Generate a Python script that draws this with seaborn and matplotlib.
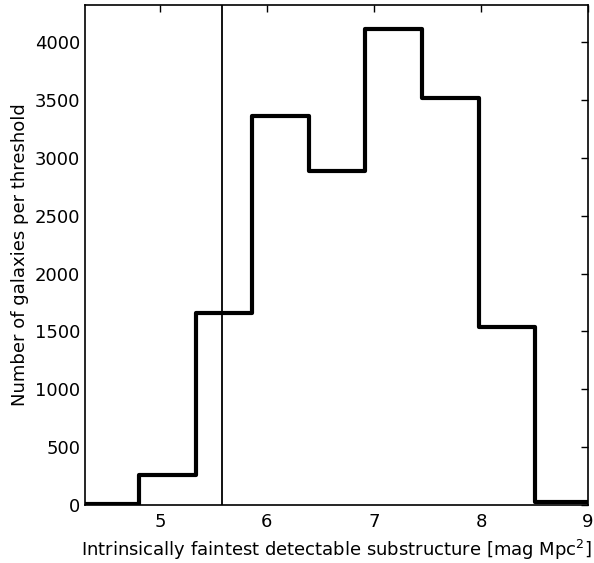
import numpy as np
import pandas as pd
import matplotlib
matplotlib.use("Agg")
import matplotlib.pyplot as plt
import seaborn as sns

# Bin edges of the threshold distribution and galaxy counts per bin
bin_edges = [4.275, 4.804, 5.333, 5.862, 6.391, 6.920, 7.449, 7.978, 8.507, 9.036]
counts = [5, 259, 1661, 3360, 2888, 4114, 3515, 1534, 25]
threshold_line = 5.58

xlabel = "Intrinsically faintest detectable substructure [mag Mpc$^2$]"
ylabel = "Number of galaxies per threshold"
xticks = [5, 6, 7, 8, 9]
yticks = [0, 500, 1000, 1500, 2000, 2500, 3000, 3500, 4000]

sns.set_style("white")
plt.rcParams["font.family"] = ["DejaVu Sans"]
plt.rcParams["text.color"] = "black"
plt.rcParams["axes.labelcolor"] = "black"

edges = np.asarray(bin_edges)
centers = 0.5 * (edges[:-1] + edges[1:])
df = pd.DataFrame({"threshold": centers, "n": counts})

fig = plt.figure(figsize=(5.94, 5.63), dpi=100)
ax = fig.add_axes([0.143, 0.103, 0.847, 0.888])

sns.histplot(data=df, x="threshold", weights="n", bins=list(bin_edges),
             element="step", fill=False, color="black", linewidth=3, ax=ax)
ax.axvline(threshold_line, color="black", linewidth=1.3)

ax.set_xlim(4.3, 9.0)
ax.set_ylim(0, max(counts) * 1.05)
ax.set_xticks(xticks)
ax.set_yticks(yticks)
ax.set_xlabel(xlabel, fontsize=13, color="black", labelpad=5)
ax.set_ylabel(ylabel, fontsize=13, color="black")
ax.tick_params(direction="in", top=True, right=True, length=5, width=1,
               labelsize=13, colors="black")
ax.tick_params(axis="x", pad=6)
for s in ax.spines.values():
    s.set_color("black")
    s.set_linewidth(1.2)
    s.set_visible(True)

fig.savefig("out.png", dpi=100)
